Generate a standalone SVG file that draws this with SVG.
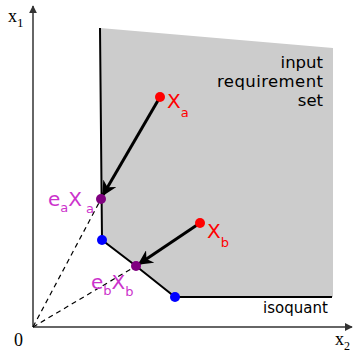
<svg xmlns="http://www.w3.org/2000/svg" width="355" height="353" viewBox="0 0 355 353">
<style>
.ax{stroke:#333;stroke-width:1.5;fill:none}
.iso{stroke:#000;stroke-width:2;fill:none}
.dash{stroke:#000;stroke-width:1.2;stroke-dasharray:5,4;fill:none}
.arr{stroke:#000;stroke-width:3;fill:none}
.serif{font-family:"Liberation Serif",serif;fill:#000}
.sans{font-family:"DejaVu Sans","Liberation Sans",sans-serif}
.red{fill:#ff0000}
.mag{fill:#cc33cc}
</style>
<defs>
<marker id="ah" viewBox="0 0 10 10" refX="9" refY="5" markerWidth="8" markerHeight="8" markerUnits="userSpaceOnUse" orient="auto"><path d="M0,0 L10,5 L0,10 z" fill="#333"/></marker>
<marker id="ahb" viewBox="0 0 10 10" refX="9" refY="5" markerWidth="5" markerHeight="5" orient="auto"><path d="M0,0 L10,5 L0,10 L3,5 z" fill="#000"/></marker>
</defs>
<rect width="355" height="353" fill="#fff"/>
<g id="region">
<polygon points="100,28 333,48 333,297 175,297 136,266 102,240" fill="#cccccc"/>
<text class="sans" font-size="16.5" text-anchor="end" fill="#000" x="323" y="68">input</text>
<text class="sans" font-size="16.5" text-anchor="end" fill="#000" x="323" y="87" textLength="106">requirement</text>
<text class="sans" font-size="16.5" text-anchor="end" fill="#000" x="323" y="106">set</text>
</g>
<g id="axes">
<line class="ax" x1="33" y1="327" x2="33" y2="6" marker-end="url(#ah)"/>
<line class="ax" x1="33" y1="327" x2="352" y2="327" marker-end="url(#ah)"/>
<text class="serif" x="8" y="22" font-size="18">x<tspan font-size="13" dy="5">1</tspan></text>
<text class="serif" x="335" y="345" font-size="18">x<tspan font-size="12" dy="5">2</tspan></text>
<text class="serif" x="14" y="346" font-size="18">0</text>
</g>
<g id="isoquant">
<polyline class="iso" points="100,28 102,240 136,266 175,297 332,297"/>
<text class="sans" x="263" y="313" font-size="15" fill="#000">isoquant</text>
</g>
<g id="connectors">
<line class="dash" x1="33" y1="327" x2="101" y2="199"/>
<line class="dash" x1="33" y1="327" x2="136" y2="266"/>
<line class="arr" x1="160" y1="97" x2="103" y2="195" marker-end="url(#ahb)"/>
<line class="arr" x1="200" y1="223" x2="139" y2="264" marker-end="url(#ahb)"/>
</g>
<g id="xa">
<circle cx="160" cy="97" r="5" fill="#ff0000"/>
<text class="sans red" x="167" y="108" font-size="20">X<tspan font-size="13" dy="9">a</tspan></text>
</g>
<g id="xb">
<circle cx="200" cy="223" r="5" fill="#ff0000"/>
<text class="sans red" x="207" y="238" font-size="20">X<tspan font-size="13" dy="9">b</tspan></text>
</g>
<g id="eaxa">
<circle cx="101" cy="199" r="5" fill="#800080"/>
<text class="sans mag" x="48" y="206" font-size="20">e<tspan font-size="13" dy="6">a</tspan><tspan font-size="20" dy="-6">X</tspan><tspan font-size="13" dy="7" dx="4">a</tspan></text>
</g>
<g id="ebxb">
<circle cx="136" cy="266" r="5" fill="#800080"/>
<text class="sans mag" x="91" y="289" font-size="20">e<tspan font-size="13" dy="6">b</tspan><tspan font-size="20" dy="-6">X</tspan><tspan font-size="13" dy="7">b</tspan></text>
</g>
<g id="corners">
<circle cx="102" cy="240" r="5" fill="#0000ff"/>
<circle cx="175" cy="297" r="5" fill="#0000ff"/>
</g>
</svg>
